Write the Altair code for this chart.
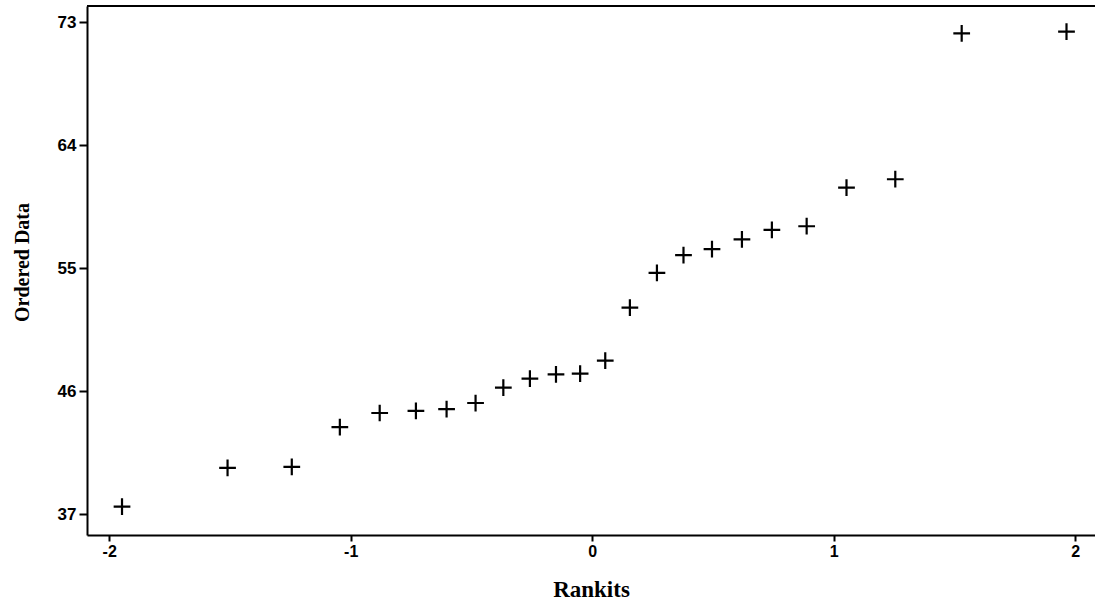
import altair as alt
import pandas as pd

# Normal probability plot: rankits against the ordered sample
rankits = [-1.947, -1.510, -1.244, -1.045, -0.880, -0.730, -0.603, -0.483,
           -0.368, -0.258, -0.150, -0.050, 0.054, 0.156, 0.268, 0.378,
           0.496, 0.620, 0.744, 0.888, 1.053, 1.255, 1.530, 1.964]
ordered = [37.55, 40.39, 40.45, 43.37, 44.40, 44.55, 44.69, 45.13,
           46.25, 46.91, 47.23, 47.28, 48.23, 52.11, 54.65, 55.96,
           56.40, 57.11, 57.80, 58.07, 60.89, 61.51, 72.19, 72.31]

x_ticks = [-2, -1, 0, 1, 2]
y_ticks = [37, 46, 55, 64, 73]
x_domain = [-2.092, 2.082]
y_domain = [35.47, 74.19]

df = pd.DataFrame({"rankit": rankits, "value": ordered})

W, H = 1008, 529

x_axis = alt.Axis(
    values=x_ticks, labelExpr="datum.value + ''", grid=False,
    domainColor="black", domainWidth=2, tickColor="black", tickWidth=2,
    tickSize=6, labelPadding=2, labelFont="Liberation Sans", labelFontSize=16,
    labelFontWeight="bold", labelColor="black",
    title="Rankits", titleFont="Liberation Serif", titleFontSize=23,
    titleFontWeight="bold", titleColor="black", titleBaseline="alphabetic",
    titleY=61,
)
y_axis = alt.Axis(
    values=y_ticks, grid=False,
    domainColor="black", domainWidth=2, tickColor="black", tickWidth=2,
    tickSize=8, labelPadding=3, labelFont="Liberation Sans", labelFontSize=17,
    labelFontWeight="bold", labelColor="black",
    title="Ordered Data", titleFont="Liberation Serif", titleFontSize=20,
    titleFontWeight="bold", titleColor="black", titleBaseline="alphabetic",
    titleX=-59, titleY=256, titleAngle=270,
)

points = alt.Chart(df).mark_point(
    shape="M-1,0L1,0M0,-1L0,1", filled=False, color="black",
    strokeWidth=2.2, size=280, opacity=1,
).encode(
    x=alt.X("rankit:Q", scale=alt.Scale(domain=x_domain, nice=False, zero=False), axis=x_axis),
    y=alt.Y("value:Q", scale=alt.Scale(domain=y_domain, nice=False, zero=False), axis=y_axis),
)

# top border of the frame
top_line = alt.Chart(df).mark_rule(color="black", strokeWidth=2).encode(
    x=alt.value(0), x2=alt.value(W), y=alt.value(0)
)

chart = alt.layer(points, top_line).properties(
    width=W, height=H,
    autosize=alt.AutoSizeParams(type="none"),
    padding={"left": 87, "top": 6, "right": 0, "bottom": 70},
    background="white",
).configure_view(stroke=None)

chart.save("out.html", embed_options={"renderer": "svg", "actions": False})
